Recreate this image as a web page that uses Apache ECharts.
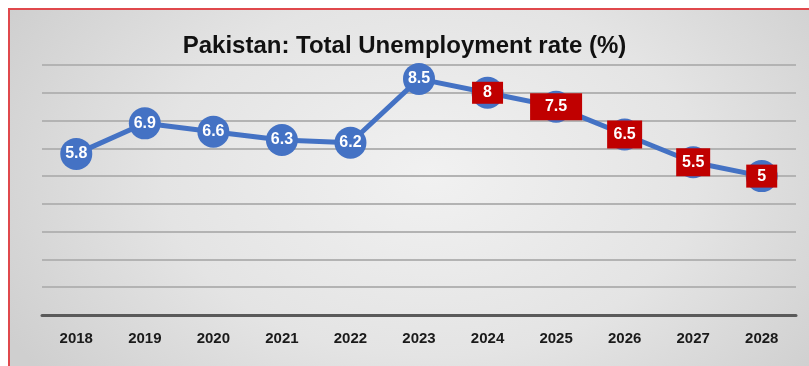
<!DOCTYPE html>
<html>
<head>
<meta charset="utf-8">
<script src="https://cdn.jsdelivr.net/npm/echarts@6/dist/echarts.min.js"></script>
<style>
  html, body { margin: 0; padding: 0; background: #ffffff; }
  #frame {
    position: absolute; left: 8px; top: 8px; width: 809px; height: 366px;
    border-top: 2px solid #e0484c; border-left: 2px solid #e0484c;
    background: radial-gradient(ellipse 60% 90% at 52% 45%, #f1f1f1 0%, #e4e4e4 55%, #cfcfcf 100%);
  }
  #chart { position: absolute; left: 0; top: 0; width: 809px; height: 366px; }
</style>
</head>
<body>
<div id="frame"></div>
<div id="chart"></div>
<script>
// Pakistan total unemployment rate, actuals and projections
const years = ['2018', '2019', '2020', '2021', '2022', '2023', '2024', '2025', '2026', '2027', '2028'];
const rates = [5.8, 6.9, 6.6, 6.3, 6.2, 8.5, 8, 7.5, 6.5, 5.5, 5];
const firstProjectedYear = '2024';

// Box sizes for the projected-value labels, in year order from 2024
const projBoxes = [[31, 22], [52, 27], [35, 28], [34, 28], [31, 23]];

const blue = '#4472C4';
const red = '#C00000';
const projStart = years.indexOf(firstProjectedYear);

const points = rates.map((v, i) => {
  const item = { value: v };
  if (i >= projStart) {
    const [w, h] = projBoxes[i - projStart];
    item.label = {
      backgroundColor: red,
      width: w,
      height: h,
      lineHeight: h,
      align: 'center',
      verticalAlign: 'middle'
    };
  }
  return item;
});

const chart = echarts.init(document.getElementById('chart'), null, { renderer: 'canvas' });
chart.setOption({
  backgroundColor: 'transparent',
  animation: false,
  title: {
    text: 'Pakistan: Total Unemployment rate (%)',
    left: 'center',
    top: 29,
    textStyle: { fontFamily: 'Liberation Sans', fontWeight: 'bold', fontSize: 24, color: '#111111' }
  },
  grid: { left: 42, right: 13, top: 65, bottom: 51 },
  xAxis: {
    type: 'category',
    data: years,
    boundaryGap: true,
    axisLine: { lineStyle: { color: '#5a5a5a', width: 3 } },
    axisTick: { show: false },
    axisLabel: {
      margin: 16,
      fontFamily: 'Liberation Sans', fontWeight: 'bold', fontSize: 15, color: '#1a1a1a'
    }
  },
  yAxis: {
    type: 'value',
    min: 0, max: 9, interval: 1,
    axisLine: { show: false },
    axisTick: { show: false },
    axisLabel: { show: false },
    splitLine: { lineStyle: { color: '#b3b3b3', width: 2 } }
  },
  series: [{
    type: 'line',
    data: points,
    symbol: 'circle',
    symbolSize: 32,
    itemStyle: { color: blue },
    lineStyle: { color: blue, width: 5 },
    label: {
      show: true,
      position: 'inside',
      color: '#ffffff',
      fontFamily: 'Liberation Sans',
      fontWeight: 'bold',
      fontSize: 16
    }
  }]
});
</script>
</body>
</html>
